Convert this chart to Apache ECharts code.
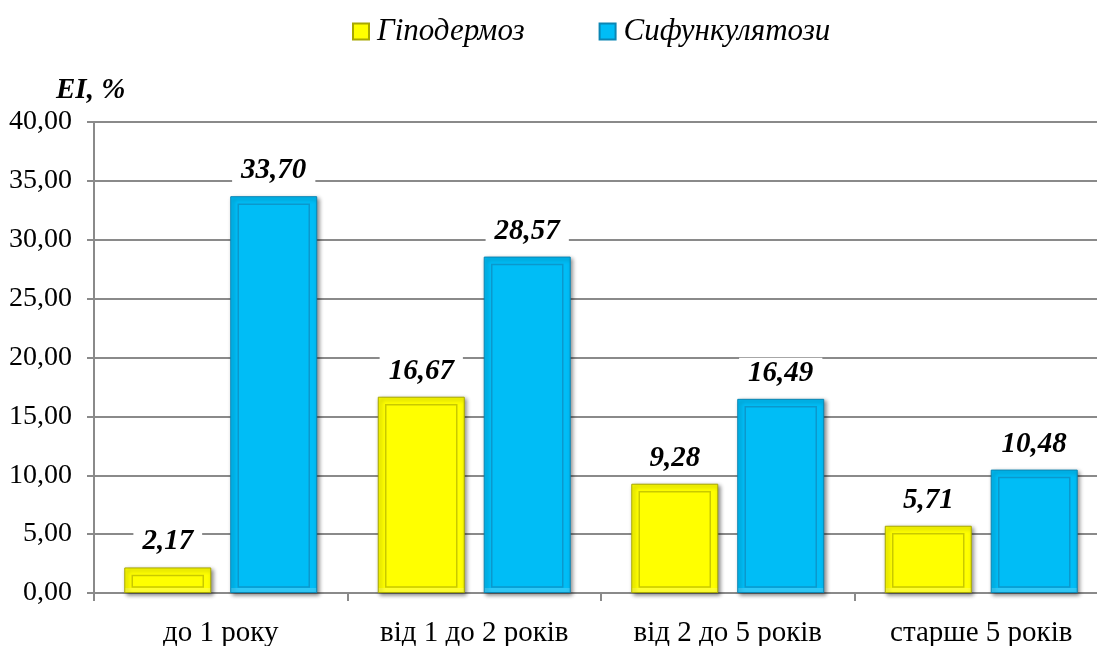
<!DOCTYPE html>
<html>
<head>
<meta charset="utf-8">
<script src="https://cdn.jsdelivr.net/npm/echarts@6/dist/echarts.min.js"></script>
<style>
  html, body { margin: 0; padding: 0; background: #fff; }
  #chart { width: 1097px; height: 646px; }
</style>
</head>
<body>
<div id="chart"></div>
<script>
// Age groups of the animals
const categories = ['до 1 року', 'від 1 до 2 років', 'від 2 до 5 років', 'старше 5 років'];
// Extensiveness of invasion, %
const hypodermosis = [2.17, 16.67, 9.28, 5.71];
const siphunculatosis = [33.70, 28.57, 16.49, 10.48];
const seriesNames = ['Гіподермоз', 'Сифункулятози'];
const yTicks = { min: 0, max: 40, interval: 5 };

const FONT = "'Liberation Serif', 'Times New Roman', serif";
const BAR_W = 87;
const BAR_GAP = 19;
const palette = [
  { fill: '#FFFF00', edge: '#A8A800', inner: '#C9C900' },
  { fill: '#00BDF6', edge: '#0A86B4', inner: '#0B98CC' }
];

const fmt = v => v.toFixed(2).replace('.', ',');

function barSeries(name, values, col) {
  return {
    name: name,
    type: 'bar',
    data: values,
    barWidth: BAR_W,
    barGap: (BAR_GAP / BAR_W * 100).toFixed(1) + '%',
    itemStyle: {
      color: col.fill,
      borderColor: col.edge,
      borderWidth: 1,
      shadowColor: 'rgba(0,0,0,0.45)',
      shadowBlur: 4,
      shadowOffsetX: 2,
      shadowOffsetY: 2
    },
    label: {
      show: true,
      position: 'top',
      distance: 10,
      formatter: p => fmt(p.value),
      fontFamily: FONT,
      fontSize: 29,
      fontWeight: 'bold',
      fontStyle: 'italic',
      color: '#000',
      backgroundColor: '#fff',
      padding: [0, 9],
      lineHeight: 31
    },
    emphasis: { disabled: true },
    z: 2
  };
}

// Inner bevel frame drawn on top of each bar
function frameSeries(values, col, side) {
  return {
    type: 'custom',
    silent: true,
    data: values.map((v, i) => [i, v]),
    encode: { x: 0, y: 1 },
    z: 3,
    renderItem: function (params, api) {
      const top = api.coord([api.value(0), api.value(1)]);
      const base = api.coord([api.value(0), 0]);
      const cx = top[0] + side * (BAR_W + BAR_GAP) / 2;
      const x0 = cx - BAR_W / 2 + 8;
      const w = BAR_W - 16;
      const y0 = top[1] + 8;
      const h = Math.max(base[1] - 6 - y0, 2);
      return {
        type: 'group',
        children: [
          {
            type: 'rect',
            shape: { x: x0, y: y0, width: w, height: h },
            style: { fill: null, stroke: col.inner, lineWidth: 1.5 }
          },
          {
            type: 'rect',
            shape: { x: cx - BAR_W / 2 + 1, y: base[1] - 5, width: BAR_W - 2, height: 4 },
            style: { fill: 'rgba(255,255,255,0.18)' }
          }
        ]
      };
    }
  };
}

const chart = echarts.init(document.getElementById('chart'), null, { renderer: 'canvas' });
chart.setOption({
  animation: false,
  backgroundColor: '#fff',
  title: {
    text: 'EI, %',
    left: 51,
    top: 71,
    textStyle: { fontFamily: FONT, fontSize: 29, fontWeight: 'bold', fontStyle: 'italic', color: '#000' }
  },
  legend: {
    data: seriesNames,
    left: 347,
    top: 11,
    itemWidth: 16,
    itemHeight: 16,
    itemGap: 74,
    icon: 'rect',
    textStyle: { fontFamily: FONT, fontSize: 31, fontStyle: 'italic', color: '#000', padding: [0, 0, 0, 3] },
    selectedMode: false
  },
  // the last category runs slightly past the right edge of the canvas
  grid: { left: 94, right: -11, top: 122, bottom: 53, containLabel: false, outerBoundsMode: 'none' },
  xAxis: {
    type: 'category',
    data: categories,
    axisLine: { lineStyle: { color: '#8a8a8a', width: 2 } },
    axisTick: { show: true, length: 8, lineStyle: { color: '#8a8a8a', width: 2 } },
    axisLabel: { fontFamily: FONT, fontSize: 29, color: '#000', margin: 26 }
  },
  yAxis: {
    type: 'value',
    min: yTicks.min,
    max: yTicks.max,
    interval: yTicks.interval,
    axisLine: { show: true, lineStyle: { color: '#8a8a8a', width: 2 } },
    axisTick: { show: true, length: 7, lineStyle: { color: '#8a8a8a', width: 2 } },
    splitLine: { lineStyle: { color: '#8a8a8a', width: 2 } },
    axisLabel: { fontFamily: FONT, fontSize: 28, color: '#000', margin: 22, formatter: v => fmt(v) }
  },
  series: [
    barSeries(seriesNames[0], hypodermosis, palette[0]),
    barSeries(seriesNames[1], siphunculatosis, palette[1]),
    frameSeries(hypodermosis, palette[0], -1),
    frameSeries(siphunculatosis, palette[1], 1)
  ]
});
</script>
</body>
</html>
